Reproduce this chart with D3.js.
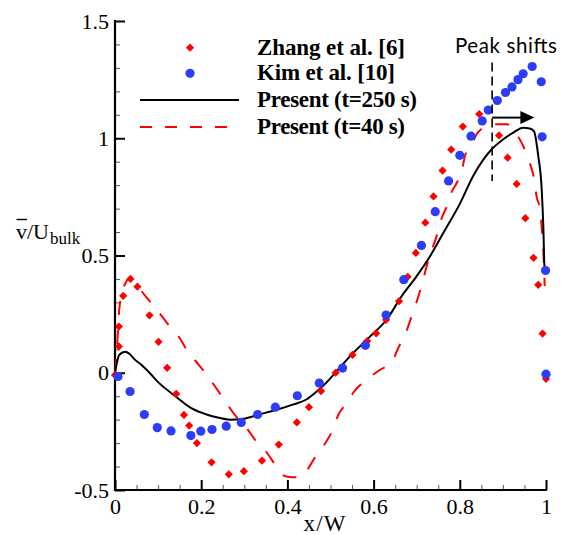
<!DOCTYPE html>
<html>
<head>
<meta charset="utf-8">
<script src="https://cdn.jsdelivr.net/npm/d3@7"></script>
<style>
  html, body { margin: 0; padding: 0; background: #fff; }
  svg { display: block; }
</style>
</head>
<body>
<svg id="chart" width="562" height="535"></svg>
<script>
// Zhang et al. [6] measurements
const zhangX = [0.0, 0.009, 0.009, 0.019, 0.036, 0.052, 0.080, 0.101, 0.121, 0.142, 0.160, 0.172, 0.190,
  0.224, 0.264, 0.299, 0.341, 0.380, 0.422, 0.450, 0.478, 0.512, 0.551, 0.585, 0.606, 0.629, 0.659,
  0.679, 0.698, 0.720, 0.739, 0.760, 0.780, 0.807, 0.845, 0.891, 0.911, 0.932, 0.952, 0.971, 0.982,
  0.992, 1.0];
const zhangY = [-0.01, 0.112, 0.197, 0.328, 0.40, 0.367, 0.245, 0.132, 0.021, -0.09, -0.18, -0.225, -0.30,
  -0.382, -0.433, -0.42, -0.375, -0.306, -0.212, -0.147, -0.078, 0.0, 0.076, 0.135, 0.168, 0.226, 0.305,
  0.409, 0.511, 0.640, 0.752, 0.862, 0.952, 1.05, 1.103, 1.012, 0.917, 0.805, 0.659, 0.49, 0.375,
  0.167, -0.026];

// Kim et al. [10] measurements
const kimX = [0.007, 0.035, 0.068, 0.098, 0.130, 0.176, 0.199, 0.225, 0.258, 0.293, 0.331, 0.372, 0.423,
  0.474, 0.528, 0.581, 0.629, 0.670, 0.711, 0.743, 0.774, 0.800, 0.826, 0.852, 0.866, 0.887, 0.906,
  0.921, 0.935, 0.947, 0.968, 0.989, 0.991, 0.999, 1.0];
const kimY = [-0.016, -0.08, -0.178, -0.234, -0.248, -0.268, -0.249, -0.242, -0.228, -0.212, -0.178, -0.147, -0.098,
  -0.044, 0.02, 0.117, 0.246, 0.397, 0.543, 0.687, 0.818, 0.927, 1.009, 1.074, 1.12, 1.161, 1.195,
  1.219, 1.25, 1.275, 1.306, 1.241, 1.006, 0.436, -0.006];

// Present simulation, t = 250 s
const t250X = [0, 0.005, 0.01, 0.024, 0.034, 0.046, 0.061, 0.08, 0.1, 0.138, 0.177, 0.216, 0.236, 0.267,
  0.298, 0.336, 0.375, 0.414, 0.445, 0.468, 0.491, 0.514, 0.545, 0.592, 0.63, 0.665, 0.7, 0.731, 0.762,
  0.8, 0.831, 0.855, 0.874, 0.901, 0.924, 0.947, 0.962, 0.972, 0.982, 0.99, 0.994, 0.996, 0.997];
const t250Y = [0, 0.048, 0.077, 0.09, 0.08, 0.056, 0.034, 0.0, -0.04, -0.097, -0.151, -0.18, -0.19, -0.2,
  -0.196, -0.177, -0.158, -0.135, -0.113, -0.08, -0.041, 0.006, 0.07, 0.155, 0.226, 0.326, 0.412, 0.497, 0.597,
  0.72, 0.839, 0.91, 0.953, 0.996, 1.024, 1.045, 1.042, 1.03, 0.925, 0.782, 0.611, 0.469, 0.44];

// Present simulation, t = 40 s
const t40X = [0, 0.003, 0.006, 0.009, 0.015, 0.025, 0.035, 0.05, 0.065, 0.085, 0.105, 0.127, 0.15, 0.17,
  0.193, 0.216, 0.235, 0.259, 0.278, 0.306, 0.325, 0.352, 0.369, 0.385, 0.4, 0.427, 0.44, 0.452, 0.469,
  0.49, 0.505, 0.518, 0.535, 0.557, 0.584, 0.615, 0.642, 0.657, 0.673, 0.692, 0.704, 0.714, 0.723, 0.731,
  0.745, 0.758, 0.77, 0.777, 0.793, 0.804, 0.812, 0.828, 0.839, 0.855, 0.866, 0.893, 0.91, 0.92, 0.932,
  0.947, 0.959, 0.967, 0.974, 0.978, 0.986, 0.99, 0.994, 0.997];
const t40Y = [0, 0.06, 0.15, 0.25, 0.33, 0.385, 0.405, 0.38, 0.34, 0.295, 0.25, 0.198, 0.148, 0.088,
  0.037, -0.016, -0.066, -0.13, -0.18, -0.237, -0.286, -0.34, -0.386, -0.43, -0.443, -0.446, -0.43, -0.397, -0.346,
  -0.294, -0.244, -0.18, -0.135, -0.075, -0.03, 0.013, 0.044, 0.105, 0.162, 0.262, 0.326, 0.39, 0.454, 0.504,
  0.575, 0.66, 0.711, 0.753, 0.81, 0.853, 0.925, 0.974, 1.017, 1.046, 1.06, 1.06, 1.06, 1.046, 1.017,
  0.967, 0.91, 0.868, 0.81, 0.753, 0.7, 0.62, 0.51, 0.37];

// Axis ticks and labels
const xTicks = [0, 0.2, 0.4, 0.6, 0.8, 1];
const xTickLabels = ["0", "0.2", "0.4", "0.6", "0.8", "1"];
const yTicks = [-0.5, 0, 0.5, 1, 1.5];
const yTickLabels = ["-0.5", "0", "0.5", "1", "1.5"];

const legendLabels = ["Zhang et al. [6]", "Kim et al. [10]", "Present (t=250 s)", "Present (t=40 s)"];
const legendWidths = [148, 138, 160, 148];

// "Peak shifts" annotation: vertical marker position and arrow
const peakLineX = 0.875;
const peakLineY = [0.818, 1.323];
const peakArrowX = [0.875, 0.973];
const peakArrowY = 1.088;

const RED = "#ff0000";
const BLUE = "#2d3cf5";
const SERIF = "'Liberation Serif', 'Times New Roman', serif";

const svg = d3.select("#chart");
const x = d3.scaleLinear().domain([0, 1]).range([115, 546]);
const y = d3.scaleLinear().domain([-0.5, 1.5]).range([490, 21]);

// ---- axes ----
const xMinor = d3.range(0, 1.0001, 0.05).filter(v => !xTicks.some(t => Math.abs(t - v) < 1e-6));
const yMinor = d3.range(-0.5, 1.5001, 0.1).filter(v => !yTicks.some(t => Math.abs(t - v) < 1e-6));

const styleLabels = g => g.selectAll("text")
  .attr("font-family", SERIF).attr("font-size", 22).attr("fill", "#000");

svg.append("g").attr("transform", `translate(0,${y(-0.5)})`)
  .call(d3.axisBottom(x).tickValues(xMinor).tickSize(-5).tickFormat(""))
  .call(g => g.select(".domain").remove())
  .call(g => g.selectAll("line").attr("stroke", "#555").attr("stroke-width", 1));
svg.append("g").attr("transform", `translate(0,${y(-0.5)})`)
  .attr("font-family", SERIF).attr("font-size", 22)
  .call(d3.axisBottom(x).tickValues(xTicks).tickSize(-10).tickPadding(8)
    .tickFormat((d, i) => xTickLabels[i]))
  .call(g => g.select(".domain").remove())
  .call(g => g.selectAll("line").attr("stroke", "#000").attr("stroke-width", 2))
  .call(styleLabels);

svg.append("g").attr("transform", `translate(${x(0)},0)`)
  .call(d3.axisLeft(y).tickValues(yMinor).tickSize(-5).tickFormat(""))
  .call(g => g.select(".domain").remove())
  .call(g => g.selectAll("line").attr("stroke", "#555").attr("stroke-width", 1));
svg.append("g").attr("transform", `translate(${x(0)},0)`)
  .call(d3.axisLeft(y).tickValues(yTicks).tickSize(-10).tickPadding(6)
    .tickFormat((d, i) => yTickLabels[i]))
  .call(g => g.select(".domain").remove())
  .call(g => g.selectAll("line").attr("stroke", "#000").attr("stroke-width", 2))
  .call(styleLabels);

// axis lines
svg.append("line").attr("x1", x(0)).attr("x2", x(0)).attr("y1", y(1.5) - 1).attr("y2", y(-0.5) + 1)
  .attr("stroke", "#000").attr("stroke-width", 2.2);
svg.append("line").attr("x1", x(0) - 1).attr("x2", x(1) + 1).attr("y1", y(-0.5)).attr("y2", y(-0.5))
  .attr("stroke", "#000").attr("stroke-width", 2.2);

// axis titles
svg.append("text").attr("x", (x(0) + x(1)) / 2 - 6).attr("y", 531).attr("text-anchor", "middle")
  .attr("font-family", SERIF).attr("font-size", 23).attr("textLength", 42).text("x/W");

const yTitle = svg.append("text").attr("x", 16).attr("y", 238.5)
  .attr("font-family", SERIF).attr("font-size", 22);
yTitle.append("tspan").text("v");
yTitle.append("tspan").text("/U");
yTitle.append("tspan").attr("font-size", 17).attr("dy", 5).attr("dx", 1).text("bulk");
const vWidth = yTitle.node().getSubStringLength(0, 1);
svg.append("line").attr("x1", 16.5).attr("x2", 16 + vWidth).attr("y1", 219.5).attr("y2", 219.5)
  .attr("stroke", "#000").attr("stroke-width", 1.4);

// ---- series ----
const line = d3.line().x(d => x(d[0])).y(d => y(d[1])).curve(d3.curveMonotoneX);

svg.append("path").datum(d3.zip(t40X, t40Y)).attr("d", line)
  .attr("fill", "none").attr("stroke", RED).attr("stroke-width", 2).attr("stroke-dasharray", "14,15");

svg.append("path").datum(d3.zip(t250X, t250Y)).attr("d", line)
  .attr("fill", "none").attr("stroke", "#000").attr("stroke-width", 2);

const diamond = d3.symbol(d3.symbolSquare).size(34)();
svg.append("g").selectAll("path").data(d3.zip(zhangX, zhangY)).join("path")
  .attr("d", diamond)
  .attr("transform", d => `translate(${x(d[0])},${y(d[1])}) rotate(45)`)
  .attr("fill", RED);

svg.append("g").selectAll("circle").data(d3.zip(kimX, kimY)).join("circle")
  .attr("cx", d => x(d[0])).attr("cy", d => y(d[1])).attr("r", 4.6)
  .attr("fill", BLUE);

// ---- annotation ----
svg.append("line").attr("x1", x(peakLineX)).attr("x2", x(peakLineX))
  .attr("y1", y(peakLineY[1])).attr("y2", y(peakLineY[0]))
  .attr("stroke", "#000").attr("stroke-width", 1.6).attr("stroke-dasharray", "9,5");
const ax0 = x(peakArrowX[0]), ax1 = x(peakArrowX[1]), ay = y(peakArrowY);
svg.append("line").attr("x1", ax0).attr("x2", ax1 - 12).attr("y1", ay).attr("y2", ay)
  .attr("stroke", "#000").attr("stroke-width", 2);
svg.append("path").attr("d", `M${ax1},${ay} L${ax1 - 14},${ay - 6.5} L${ax1 - 14},${ay + 6.5} Z`)
  .attr("fill", "#000");
svg.append("text").attr("x", 455).attr("y", 52.5)
  .attr("font-family", "Lato, 'Open Sans', sans-serif").attr("font-size", 20.5)
  .attr("textLength", 102)
  .text("Peak shifts");

// ---- legend ----
const legY = [47.7, 73.3, 100, 127];
const leg = svg.append("g");
leg.append("path").attr("d", diamond)
  .attr("transform", `translate(190,${legY[0]}) rotate(45)`).attr("fill", RED);
leg.append("circle").attr("cx", 190).attr("cy", legY[1]).attr("r", 4.6).attr("fill", BLUE);
leg.append("line").attr("x1", 140).attr("x2", 239).attr("y1", legY[2]).attr("y2", legY[2])
  .attr("stroke", "#000").attr("stroke-width", 2);
leg.append("line").attr("x1", 140).attr("x2", 227).attr("y1", legY[3]).attr("y2", legY[3])
  .attr("stroke", RED).attr("stroke-width", 2).attr("stroke-dasharray", "12,13");
leg.selectAll("text").data(legendLabels).join("text")
  .attr("x", 257).attr("y", (d, i) => legY[i] + 7)
  .attr("font-family", SERIF).attr("font-weight", "bold").attr("font-size", 23)
  .attr("textLength", (d, i) => legendWidths[i])
  .text(d => d);
</script>
</body>
</html>
